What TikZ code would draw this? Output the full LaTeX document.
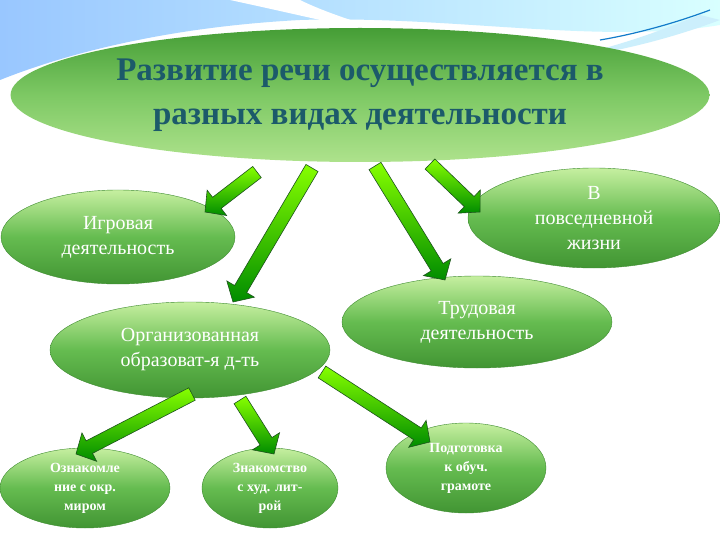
\documentclass[tikz,border=0pt]{standalone}
\usepackage{fontspec}
\setmainfont{Liberation Serif}
\usetikzlibrary{shapes.geometric,calc}
\definecolor{gA}{HTML}{C6EFA0}
\definecolor{gB}{HTML}{4DAF3C}
\definecolor{gC}{HTML}{2E8B2E}
\definecolor{tt}{HTML}{1C5A6A}
\tikzset{
 el/.style={ellipse, top color=gA, bottom color=gB!85!black, middle color=gB!80!gA, draw=gB!80!black, line width=0.4pt, text=white, align=center, inner sep=0pt, font=\fontsize{20}{25}\selectfont},
 sm/.style={el, font=\bfseries\fontsize{14}{19}\selectfont},
 arr/.style={draw=gC!60!black, top color=lime!70!green, bottom color=green!55!black, line width=0.6pt, line join=miter}
}
\newcommand{\blockarrow}[3]{%
 \coordinate (#3hb) at ($(#2)!15pt!(#1)$);
 \shade[arr] ($(#1)!7pt!90:(#2)$) -- ($(#3hb)!7pt!-90:(#1)$) -- ($(#3hb)!16pt!-90:(#1)$) -- (#2)
   -- ($(#3hb)!16pt!90:(#1)$) -- ($(#3hb)!7pt!90:(#1)$) -- ($(#1)!7pt!-90:(#2)$) -- cycle;}
\begin{document}
\begin{tikzpicture}[x=1pt,y=-1pt]
\useasboundingbox (0,0) rectangle (720,540);
\fill[white] (0,0) rectangle (720,540);
% background wave
\shade[left color=cyan!45!blue!40, right color=cyan!15] (0,0) -- (720,0) -- (720,25) .. controls (600,45) and (450,15) .. (300,20) .. controls (150,28) and (50,60) .. (0,80) -- cycle;
\fill[white] (230,0) .. controls (300,15) and (360,30) .. (420,40) .. controls (360,25) and (320,10) .. (300,0) -- cycle;
\fill[cyan!20] (700,15) .. controls (660,30) and (640,40) .. (560,60) .. controls (630,50) and (680,35) .. (720,20) -- cycle;
\draw[cyan!60!blue, line width=1.2pt] (710,10) .. controls (670,25) and (630,35) .. (600,40);
% title
\node[ellipse, minimum width=684pt, minimum height=134pt, top color=gB!90!black, bottom color=gA!80!gB, middle color=gB!60!gA, draw=none, text=tt, align=center, font=\bfseries\fontsize{33}{44}\selectfont] (t) at (360,95) {Развитие речи осуществляется в\\разных видах деятельности};
% nodes
\node[el, minimum width=234pt, minimum height=94pt] (ig) at (118,237) {Игровая\\деятельность};
\node[el, minimum width=252pt, minimum height=100pt] (pv) at (594,218) {В\\повседневной\\жизни};
\node[el, minimum width=270pt, minimum height=92pt] (tr) at (477,322) {Трудовая\\деятельность};
\node[el, minimum width=280pt, minimum height=96pt] (or) at (190,350) {Организованная\\образоват-я д-ть};
\node[sm, minimum width=170pt, minimum height=80pt] (oz) at (85,488) {Ознакомле\\ние с окр.\\миром};
\node[sm, minimum width=136pt, minimum height=80pt] (zn) at (270,488) {Знакомство\\с худ. лит-\\рой};
\node[sm, minimum width=160pt, minimum height=90pt] (pd) at (466,468) {Подготовка\\к обуч.\\грамоте};
% arrows
\coordinate (a1) at (257,172); \coordinate (b1) at (205,212);
\coordinate (a2) at (312,168); \coordinate (b2) at (233,302);
\coordinate (a3) at (375,166); \coordinate (b3) at (445,280);
\coordinate (a4) at (430,164); \coordinate (b4) at (480,212);
\coordinate (a5) at (192,394); \coordinate (b5) at (76,454);
\coordinate (a6) at (240,400); \coordinate (b6) at (274,454);
\coordinate (a7) at (322,372); \coordinate (b7) at (430,442);
\blockarrow{a1}{b1}{r1}
\blockarrow{a2}{b2}{r2}
\blockarrow{a3}{b3}{r3}
\blockarrow{a4}{b4}{r4}
\blockarrow{a5}{b5}{r5}
\blockarrow{a6}{b6}{r6}
\blockarrow{a7}{b7}{r7}
\end{tikzpicture}
\end{document}
